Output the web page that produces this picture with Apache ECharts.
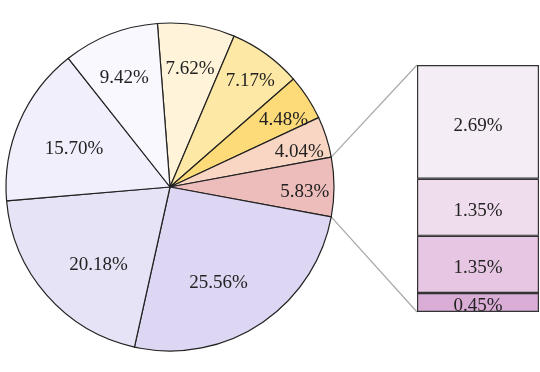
<!DOCTYPE html>
<html>
<head>
<meta charset="utf-8">
<script src="https://cdn.jsdelivr.net/npm/echarts@6/dist/echarts.min.js"></script>
<style>html,body{margin:0;padding:0;background:#fff;}#c{width:540px;height:372px;}</style>
</head>
<body>
<div id="c"></div>
<script>
// Pie slices, clockwise from the top
var pieValues = [7.62, 7.17, 4.48, 4.04, 5.83, 25.56, 20.18, 15.70, 9.42];
var pieColors = ['#FFF4DA', '#FEE8A6', '#FDDB78', '#F8D6C3', '#EDBDBB', '#DDD7F4', '#E7E3F6', '#F1EFFB', '#F9F8FE'];
var labelRadius = [0.74, 0.815, 0.80, 0.81, 0.81, 0.65, 0.65, 0.64, 0.73];
var labelNudge = [[0, 5], [0, 5], [1, 6], [0, 6], [-1, 5], [-12, 5], [11, 6], [3, 5], [-1, 5]];
var explodedIndex = 4;
// Breakdown bar, bottom to top
var barValues = [0.45, 1.35, 1.35, 2.69];
var barColors = ['#D9ADD6', '#E6C6E2', '#EFDDEE', '#F5EDF5'];

var CX = 170, CY = 187, R = 164, START = 94.4;
var GRID = {left: 417, top: 65, width: 122, height: 247};
var FONT = '"Liberation Serif", "Times New Roman", serif';
var FS = 19;

var total = pieValues.reduce(function (a, b) { return a + b; }, 0);
var barTotal = barValues.reduce(function (a, b) { return a + b; }, 0);

function angleAt(frac) { return (START - frac * 360) * Math.PI / 180; }

var cum = 0;
var pieData = pieValues.map(function (v, i) {
  var mid = angleAt((cum + v / 2) / total);
  cum += v;
  var d = (labelRadius[i] - 0.5) * R;
  return {
    value: v,
    itemStyle: {color: pieColors[i]},
    label: {offset: [d * Math.cos(mid) + labelNudge[i][0], -d * Math.sin(mid) + labelNudge[i][1]]}
  };
});

var barSeries = barValues.map(function (v, i) {
  return {
    type: 'bar', stack: 's', data: [v], barWidth: '100%',
    itemStyle: {color: barColors[i], borderColor: '#333', borderWidth: 1.2},
    label: {show: true, position: 'inside', offset: [0, 4], formatter: function (p) { return p.value.toFixed(2) + '%'; },
      fontFamily: FONT, fontSize: FS, color: '#222'},
    silent: true, animation: false
  };
});

var chart = echarts.init(document.getElementById('c'), null, {renderer: 'canvas'});
chart.setOption({
  animation: false,
  backgroundColor: '#fff',
  grid: {left: GRID.left, top: GRID.top, width: GRID.width, height: GRID.height},
  xAxis: {type: 'category', data: ['a'], show: false, boundaryGap: true},
  yAxis: {type: 'value', min: 0, max: barTotal, show: false},
  series: [{
    type: 'pie', center: [CX, CY], radius: R, startAngle: START, clockwise: true,
    data: pieData, silent: true, animation: false,
    itemStyle: {borderColor: '#222', borderWidth: 1.2},
    label: {show: true, position: 'inside', formatter: function (p) { return p.value.toFixed(2) + '%'; },
      fontFamily: FONT, fontSize: FS, color: '#222'},
    labelLine: {show: false}
  }].concat(barSeries)
});

// connector lines from the exploded slice edges to the bar corners
var before = 0;
for (var i = 0; i < explodedIndex; i++) before += pieValues[i];
var a1 = angleAt(before / total), a2 = angleAt((before + pieValues[explodedIndex]) / total);
var topPt = chart.convertToPixel({gridIndex: 0}, [0, barTotal]);
var botPt = chart.convertToPixel({gridIndex: 0}, [0, 0]);
chart.setOption({
  graphic: [
    {type: 'line', z: -1, shape: {x1: CX + R * Math.cos(a1), y1: CY - R * Math.sin(a1), x2: GRID.left, y2: topPt[1]},
      style: {stroke: '#A8A8A8', lineWidth: 1.2}},
    {type: 'line', z: -1, shape: {x1: CX + R * Math.cos(a2), y1: CY - R * Math.sin(a2), x2: GRID.left, y2: botPt[1]},
      style: {stroke: '#A8A8A8', lineWidth: 1.2}}
  ]
});
</script>
</body>
</html>
